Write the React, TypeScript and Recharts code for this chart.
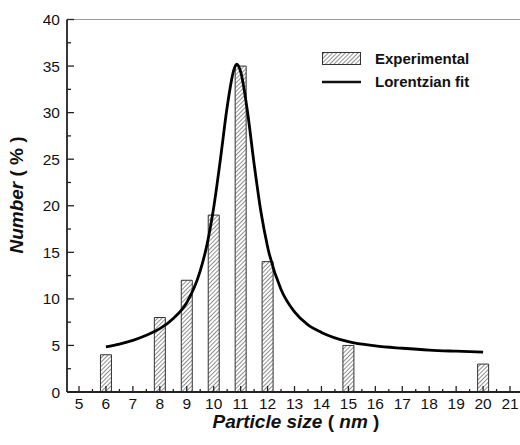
import { Bar, ComposedChart, Label, Line, ReferenceLine, XAxis, YAxis } from "recharts";

// measured bar heights (Number %) per particle size (nm)
const sizes = [6, 8, 9, 10, 11, 12, 15, 20];
const counts = [4, 8, 12, 19, 35, 14, 5, 3];

// points
const fitSizes = [
  6, 6.5, 7, 7.5, 8, 8.5, 9, 9.5, 9.75, 10, 10.25, 10.5, 10.75, 10.85, 11, 11.25,
  11.5, 11.75, 12, 12.5, 13, 13.5, 14, 15, 16, 17, 18, 19, 20,
];
const fitValues = [
  4.85, 5.15, 5.55, 6.1, 6.8, 7.9, 9.6, 13.0, 15.8, 19.8, 25.0, 30.6, 34.6, 35.2, 34.4,
  30.2, 24.5, 19.4, 15.6, 11.0, 8.6, 7.2, 6.4, 5.4, 4.95, 4.7, 4.5, 4.38, 4.28,
];

const xTicks = [
  5, 5.5, 6, 6.5, 7, 7.5, 8, 8.5, 9, 9.5, 10, 10.5, 11, 11.5, 12, 12.5, 13, 13.5, 14,
  14.5, 15, 15.5, 16, 16.5, 17, 17.5, 18, 18.5, 19, 19.5, 20, 20.5, 21,
];
const yTicks = [0, 2.5, 5, 7.5, 10, 12.5, 15, 17.5, 20, 22.5, 25, 27.5, 30, 32.5, 35, 37.5, 40];

const barData = sizes.map((x, i) => ({ x, exp: counts[i] }));
const fitData = fitSizes.map((x, i) => ({ x, fit: fitValues[i] }));

const X_DOMAIN = [4.555, 21.37];
const FONT = "Arial, 'Liberation Sans', Helvetica, sans-serif";
const AXIS = "#222";

function XTick({ x, y, payload }: any) {
  const v = payload.value as number;
  const major = Number.isInteger(v);
  return (
    <g>
      <line x1={x} x2={x} y1={y} y2={y - (major ? 6 : 3)} stroke={AXIS} strokeWidth={1.3} />
      {major && (
        <text x={x} y={y + 16.5} textAnchor="middle" fontSize={15.5} fontFamily={FONT} fill="#111">
          {v}
        </text>
      )}
    </g>
  );
}

function YTick({ x, y, payload }: any) {
  const v = payload.value as number;
  const major = v % 5 === 0;
  return (
    <g>
      <line x1={x} x2={x + (major ? 7 : 4)} y1={y} y2={y} stroke={AXIS} strokeWidth={1.3} />
      {major && (
        <text x={x - 7} y={y + 5.5} textAnchor="end" fontSize={15.5} fontFamily={FONT} fill="#111">
          {v}
        </text>
      )}
    </g>
  );
}

function LegendBox() {
  return (
    <svg width={180} height={45} style={{ position: "absolute", left: 322, top: 50, overflow: "visible" }}>
      <rect x={0.5} y={2.5} width={38} height={12} fill="url(#hatch)" stroke="#333" strokeWidth={1} />
      <text x={53} y={14} fontSize={15} fontWeight="bold" fontFamily={FONT} fill="#111">
        Experimental
      </text>
      <line x1={0} x2={39} y1={32} y2={32} stroke="#111" strokeWidth={2.6} />
      <text x={53} y={37} fontSize={15} fontWeight="bold" fontFamily={FONT} fill="#111">
        Lorentzian fit
      </text>
    </svg>
  );
}

export default function App() {
  return (
    <div style={{ position: "absolute", left: 0, top: 0, width: 520, height: 445, background: "#fff" }}>
      <ComposedChart width={520} height={445} data={barData} margin={{ top: 19.5, right: 0, left: 0, bottom: 0 }}>
        <defs>
          <pattern id="hatch" patternUnits="userSpaceOnUse" width={3} height={3} patternTransform="rotate(45)">
            <rect width={3} height={3} fill="#fff" />
            <line x1={0} y1={0} x2={0} y2={3} stroke="#333" strokeWidth={1.1} />
          </pattern>
        </defs>
        <XAxis
          dataKey="x"
          type="number"
          domain={X_DOMAIN}
          allowDataOverflow
          ticks={xTicks}
          interval={0}
          height={53}
          tickSize={0}
          tickMargin={0}
          tickLine={false}
          tick={<XTick />}
          axisLine={{ stroke: AXIS, strokeWidth: 1.8 }}
        >
          <Label
            content={() => (
              <text x={296} y={428} textAnchor="middle" fontSize={19} fontWeight="bold" fontFamily={FONT} fill="#111">
                <tspan fontStyle="italic">Particle size</tspan>
                <tspan>{"  ( "}</tspan>
                <tspan fontStyle="italic">nm</tspan>
                <tspan>{" )"}</tspan>
              </text>
            )}
          />
        </XAxis>
        <XAxis xAxisId="fit" dataKey="x" type="number" domain={X_DOMAIN} allowDataOverflow hide />
        <YAxis
          type="number"
          domain={[0, 40]}
          ticks={yTicks}
          interval={0}
          width={67}
          tickSize={0}
          tickMargin={0}
          tickLine={false}
          tick={<YTick />}
          axisLine={{ stroke: AXIS, strokeWidth: 1.8 }}
        >
          <Label
            content={() => (
              <text
                x={23}
                y={195}
                transform="rotate(-90 23 195)"
                textAnchor="middle"
                fontSize={19}
                fontWeight="bold"
                fontFamily={FONT}
                fill="#111"
              >
                <tspan fontStyle="italic">Number</tspan>
                <tspan>{"  ( % )"}</tspan>
              </text>
            )}
          />
        </YAxis>
        <ReferenceLine y={40} stroke="#999" strokeWidth={1.2} />
        <Bar
          dataKey="exp"
          barSize={11}
          fill="url(#hatch)"
          stroke="#333"
          strokeWidth={1}
          isAnimationActive={false}
        />
        <Line
          xAxisId="fit"
          data={fitData}
          dataKey="fit"
          type="monotone"
          stroke="#000"
          strokeWidth={2.8}
          dot={false}
          activeDot={false}
          isAnimationActive={false}
        />
      </ComposedChart>
      <LegendBox />
    </div>
  );
}
